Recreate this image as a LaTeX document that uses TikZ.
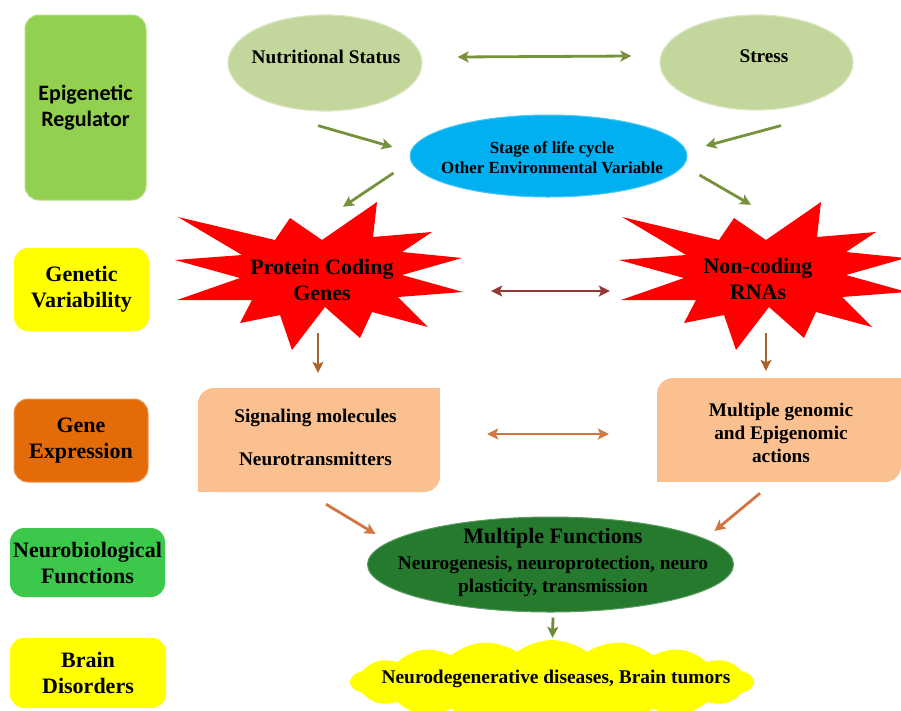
\documentclass[tikz,border=0pt]{standalone}
\usepackage{fontspec}
\setmainfont{Liberation Serif}
\newfontfamily\calib{Carlito}
\usetikzlibrary{shapes.geometric,shapes.symbols,arrows.meta}
\definecolor{cEpi}{HTML}{92D050}
\definecolor{cYel}{HTML}{FFFF00}
\definecolor{cGene}{HTML}{E36C09}
\definecolor{cNeuro}{HTML}{3CC84A}
\definecolor{cEnv}{HTML}{C3D69B}
\definecolor{cBlue}{HTML}{00B0F0}
\definecolor{cStar}{HTML}{FF0000}
\definecolor{cPeach}{HTML}{FAC090}
\definecolor{cDark}{HTML}{257A2E}
\definecolor{aGreen}{HTML}{76923C}
\definecolor{aRed}{HTML}{953735}
\definecolor{aBrown}{HTML}{A8622B}
\definecolor{aOrange}{HTML}{D27540}
\definecolor{aOlive}{HTML}{6C8C38}
\tikzset{atip/.tip={Stealth[length=11pt,width=11pt,inset=2.5pt]}}
\begin{document}
\begin{tikzpicture}[x=1pt,y=-1pt,
  lab/.style={rounded corners=14pt, align=center, inner sep=0pt,
    font=\fontsize{22}{26}\selectfont\bfseries},
  ell/.style={ellipse, inner sep=0pt},
  txt/.style={inner sep=0pt, align=center},
  ar/.style={line width=2.8pt, -{atip}},
  dar/.style={line width=2.8pt, {atip}-{atip}},
  peach/.style={fill=cPeach, rounded corners=16pt, inner sep=0pt},
  ptxt/.style={inner sep=0pt, align=center, font=\fontsize{19.3}{23}\selectfont\bfseries},
]
\useasboundingbox (0,0) rectangle (901,710);

% left labels
\node[lab, fill=cEpi, draw=cEpi!70!white, line width=1pt, minimum width=121pt, minimum height=185pt] (epi) at (85.5,107.5) {\calib Epigenetic\\\calib Regulator};
\node[lab, fill=cYel, minimum width=135pt, minimum height=83pt] (gv) at (81.5,289.5) {Genetic\\Variability};
\node[lab, fill=cGene, draw=cGene!70!white, line width=1pt, minimum width=134pt, minimum height=83pt] (ge) at (81,440.5) {Gene\\Expression};
\node[lab, fill=cNeuro, minimum width=155pt, minimum height=69pt] (nf) at (87.5,562.5) {Neurobiological\\Functions};
\node[lab, fill=cYel, minimum width=156pt, minimum height=70pt] (bd) at (88,673) {Brain\\Disorders};

% top ellipses
\node[ell, fill=cEnv, draw=cEnv!60!white, line width=1.2pt, minimum width=194pt, minimum height=96pt] (nut) at (325,63) {};
\node[txt, font=\fontsize{19.3}{22}\selectfont\bfseries] (nutT) at (326,57) {Nutritional Status};
\node[ell, fill=cEnv, draw=cEnv!60!white, line width=1.2pt, minimum width=193pt, minimum height=95pt] (stress) at (756.5,62.5) {};
\node[txt, font=\fontsize{19.3}{22}\selectfont\bfseries] (stressT) at (764,56) {Stress};
\node[ell, fill=cBlue, draw=cBlue!70!white, line width=1pt, minimum width=277pt, minimum height=82pt] (blue) at (548.5,156) {};
\node[txt, font=\fontsize{16.9}{20}\selectfont\bfseries] (blueT) at (552,158) {Stage of life cycle\\Other Environmental Variable};

% stars
\fill[cStar] (178,217) -- (275,240) -- (290,218) -- (322,240) -- (377,202) -- (373,237)
  -- (432,232) -- (402,252) -- (462,258) -- (402,275) -- (463,292) -- (398,297)
  -- (428,327) -- (372,312) -- (360,338) -- (325,307) -- (292,350) -- (280,315)
  -- (240,323) -- (252,300) -- (177,300) -- (240,278) -- (175,260) -- (242,255) -- cycle;
\begin{scope}[xshift=444pt]
\fill[cStar] (178,217) -- (275,240) -- (290,218) -- (322,240) -- (377,202) -- (373,237)
  -- (432,232) -- (402,252) -- (462,258) -- (402,275) -- (463,292) -- (398,297)
  -- (428,327) -- (372,312) -- (360,338) -- (325,307) -- (292,350) -- (280,315)
  -- (240,323) -- (252,300) -- (177,300) -- (240,278) -- (175,260) -- (242,255) -- cycle;
\end{scope}
\node[minimum width=290pt, minimum height=150pt, inner sep=0pt, align=center, font=\fontsize{22}{26}\selectfont\bfseries] (pcg) at (322,280) {Protein Coding\\Genes};
\node[minimum width=290pt, minimum height=150pt, inner sep=0pt, align=center, font=\fontsize{22}{26}\selectfont\bfseries] (nc) at (758,279) {Non-coding\\RNAs};

% peach boxes
\node[peach, minimum width=242pt, minimum height=104pt] (sig) at (319,440) {};
\fill[cPeach] (sig.north east) rectangle ++(-18,18);
\fill[cPeach] (sig.south west) rectangle ++(18,-18);
\node[ptxt] (sigT) at (315.5,437) {Signaling molecules\\[20pt]Neurotransmitters};
\node[peach, minimum width=244pt, minimum height=104pt] (mg) at (779,430) {};
\fill[cPeach] (mg.north east) rectangle ++(-18,18);
\fill[cPeach] (mg.south west) rectangle ++(18,-18);
\node[ptxt] (mgT) at (781,433) {Multiple genomic\\and Epigenomic\\actions};

% multiple functions
\node[ell, fill=cDark, draw=cDark!75!white, line width=1pt, minimum width=366pt, minimum height=95pt] (mf) at (550.5,564.5) {};
\node[txt, font=\fontsize{19.4}{23}\selectfont\bfseries] (mfT) at (553,564) {\raisebox{3pt}[\height][\depth]{\fontsize{22}{23}\selectfont Multiple Functions}\\Neurogenesis, neuroprotection, neuro\\plasticity, transmission};

% cloud
\node[cloud, cloud puffs=18, cloud puff arc=75, cloud ignores aspect, fill=cYel, minimum width=402pt, minimum height=84pt, inner sep=0pt] (cloudbg) at (552,682) {};
\node[txt, font=\fontsize{19.4}{22}\selectfont\bfseries] (dis) at (556,679) {Neurodegenerative diseases, Brain tumors};

% connectors
\draw[dar, aGreen] ([yshift=6pt,xshift=35pt]nut.east) -- ([yshift=6.5pt,xshift=-28pt]stress.west);
\draw[ar, aGreen] ([xshift=-7pt,yshift=-14pt]nut.south) -- ([xshift=-17pt,yshift=9pt]blue.west);
\draw[ar, aGreen] ([xshift=24.5pt,yshift=-15pt]stress.south) -- ([xshift=18pt,yshift=10pt]blue.east);
\draw[ar, aGreen] ([xshift=-16pt,yshift=-17pt]blue.west) -- ([xshift=21pt,yshift=-2pt]pcg.north);
\draw[ar, aGreen] ([xshift=12pt,yshift=-19pt]blue.east) -- ([xshift=-7pt,yshift=-1pt]nc.north);
\draw[dar, aRed] ([xshift=24pt,yshift=-11pt]pcg.east) -- ([xshift=-3pt,yshift=-12pt]nc.west);
\draw[ar, aBrown] ([xshift=-4pt,yshift=22pt]pcg.south) -- ([xshift=-1pt,yshift=15pt]sig.north);
\draw[ar, aBrown] ([xshift=8pt,yshift=21pt]nc.south) -- ([xshift=-13pt,yshift=7pt]mg.north);
\draw[dar, aOrange] ([xshift=47pt,yshift=6pt]sig.east) -- ([xshift=-48pt,yshift=-4pt]mg.west);
\draw[ar, aOrange] ([xshift=7pt,yshift=-12pt]sig.south) -- ([xshift=8.5pt,yshift=30.5pt]mf.west);
\draw[ar, aOrange] ([xshift=-19pt,yshift=-11pt]mg.south) -- ([xshift=-19.5pt,yshift=33.5pt]mf.east);
\draw[ar, aOlive] ([xshift=2.5pt,yshift=-5pt]mf.south) -- ([xshift=0.5pt,yshift=2pt]cloudbg.north);
\end{tikzpicture}
\end{document}
